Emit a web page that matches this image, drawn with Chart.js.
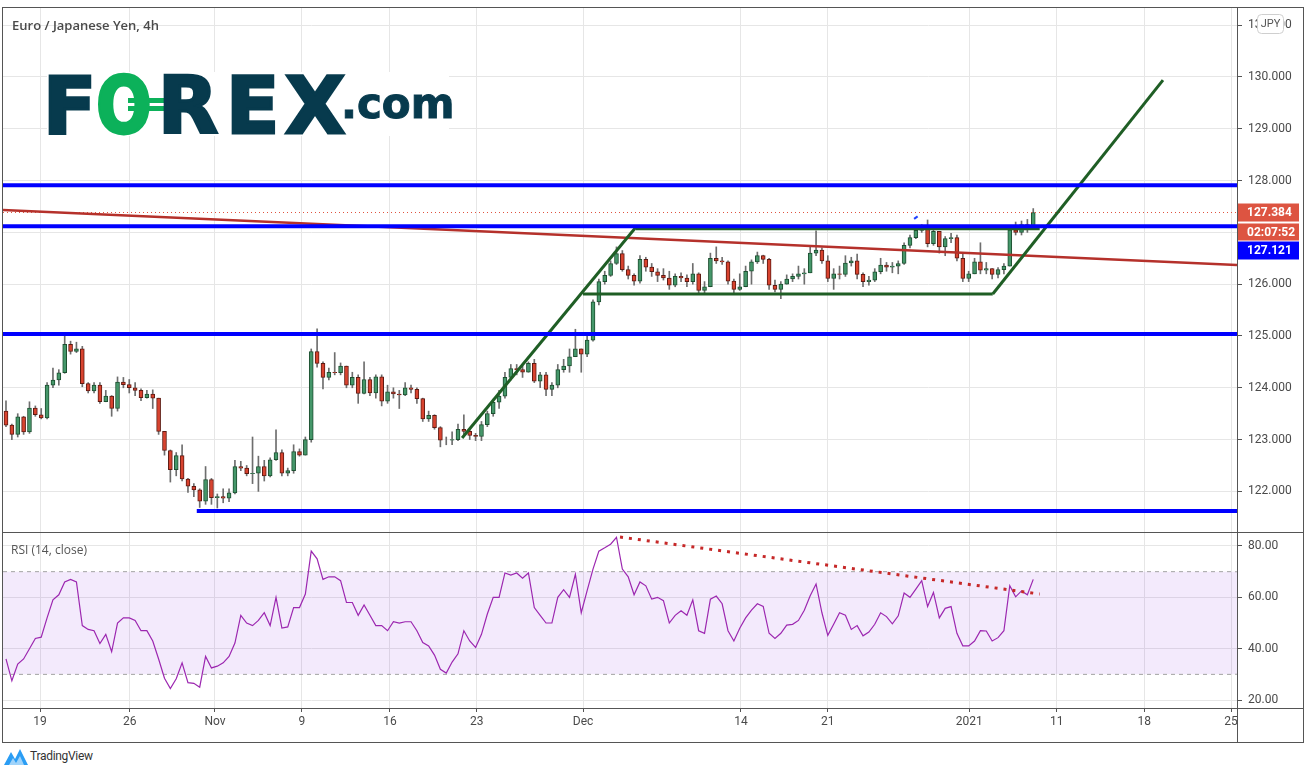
<!DOCTYPE html>
<html>
<head>
<meta charset="utf-8">
<script src="https://cdn.jsdelivr.net/npm/chart.js@4/dist/chart.umd.min.js"></script>
<style>
  html, body { margin: 0; padding: 0; background: #fff; }
  body { width: 1310px; height: 775px; position: relative; overflow: hidden; font-family: Roboto, 'Open Sans', sans-serif; }
  canvas { position: absolute; }
  .ln { position: absolute; background: #555; }
  .logo { position: absolute; font-family: 'DejaVu Sans', sans-serif; font-weight: bold; line-height: 1; white-space: nowrap; }
</style>
</head>
<body>
<canvas id="main" width="1300" height="524" style="left:3px;top:8px"></canvas>
<canvas id="rsi" width="1300" height="209" style="left:3px;top:533px"></canvas>

<div class="ln" style="left:2px;top:7px;width:1302px;height:1px"></div>
<div class="ln" style="left:2px;top:7px;width:1px;height:736px"></div>
<div class="ln" style="left:1303px;top:7px;width:1px;height:736px"></div>
<div class="ln" style="left:1237px;top:7px;width:1px;height:736px"></div>
<div class="ln" style="left:2px;top:532px;width:1302px;height:1px"></div>
<div class="ln" style="left:2px;top:708px;width:1302px;height:1px"></div>
<div class="ln" style="left:2px;top:742px;width:1302px;height:1px"></div>

<div style="position:absolute;left:12px;top:16px;font-size:13px;font-weight:600;color:#4a4a4a;font-family:'Open Sans',sans-serif">Euro / Japanese Yen, 4h</div>
<div style="position:absolute;left:11px;top:541px;font-size:12px;color:#555;font-family:'Open Sans',sans-serif">RSI (14, close)</div>

<!-- FOREX.com logo -->
<div style="position:absolute;left:47px;top:72px;width:402px;height:64px;background:#fff"></div>
<span class="logo" style="left:43px;top:67px;font-size:78px;color:#073a4d;-webkit-text-stroke:3px #073a4d">F</span>
<span class="logo" style="left:96px;top:67px;font-size:78px;color:#0cb15a;-webkit-text-stroke:3px #0cb15a;transform:scaleX(0.84);transform-origin:left top">O</span>
<div style="position:absolute;left:128px;top:98px;width:39px;height:5px;background:#0cb15a"></div>
<div style="position:absolute;left:128px;top:106px;width:39px;height:5px;background:#0cb15a"></div>
<span class="logo" style="left:158px;top:67px;font-size:78px;color:#073a4d;-webkit-text-stroke:3px #073a4d">R</span>
<span class="logo" style="left:226px;top:67px;font-size:78px;color:#073a4d;-webkit-text-stroke:3px #073a4d">E</span>
<span class="logo" style="left:285px;top:67px;font-size:78px;color:#073a4d;-webkit-text-stroke:3px #073a4d">X</span>
<span class="logo" style="left:341px;top:83px;font-size:42px;color:#073a4d;-webkit-text-stroke:1px #073a4d">.com</span>

<!-- TradingView -->
<svg style="position:absolute;left:4px;top:748px" width="24" height="18" viewBox="0 0 24 18">
  <path d="M0 17 L7 4 L11 11 L16 1 L24 17 Z" fill="#2a9df4"/>
  <path d="M5 17 L9 10 L12 15 L16 8 L20 17 Z" fill="#fff" opacity="0.55"/>
</svg>
<div style="position:absolute;left:30px;top:749px;font-size:12px;color:#333;letter-spacing:-0.3px">TradingView</div>

<script>
// EUR/JPY candles (8h buckets)
const firstOpen = 123.55;
const closes = [
  123.28, 123.10, 123.44, 123.15, 123.61, 123.48, 123.42, 124.05, 124.15, 124.29,
  124.84, 124.70, 124.75, 124.08, 123.94, 124.05, 123.73, 123.84, 123.60, 124.11,
  124.06, 124.00, 123.95, 123.81, 123.88, 123.80, 123.16, 122.79, 122.42, 122.69,
  122.24, 122.10, 122.03, 121.81, 122.23, 121.88, 121.90, 121.87, 121.97, 122.48,
  122.45, 122.34, 122.35, 122.48, 122.30, 122.61, 122.75, 122.35, 122.40, 122.77,
  122.70, 123.00, 124.70, 124.47, 124.20, 124.30, 124.29, 124.42, 124.05, 124.20,
  123.89, 124.16, 123.90, 124.21, 123.74, 123.92, 123.88, 123.86, 124.00, 123.97,
  123.79, 123.40, 123.47, 123.23, 122.99, 122.99, 123.00, 123.20, 123.16, 123.08,
  123.06, 123.29, 123.50, 123.72, 123.84, 124.20, 124.37, 124.35, 124.30, 124.47,
  124.13, 124.25, 123.97, 124.05, 124.35, 124.42, 124.60, 124.75, 124.65, 124.92,
  125.66, 126.05, 126.17, 126.40, 126.59, 126.28, 126.17, 126.06, 126.48, 126.33,
  126.24, 126.17, 126.12, 125.98, 126.15, 126.12, 126.05, 126.20, 125.88, 125.95,
  126.50, 126.45, 126.43, 126.06, 125.90, 125.95, 126.25, 126.43, 126.55, 126.48,
  125.98, 125.90, 126.00, 126.10, 126.15, 126.20, 126.22, 126.60, 126.66, 126.45,
  126.11, 126.20, 126.19, 126.41, 126.45, 126.19, 126.05, 126.08, 126.24, 126.37,
  126.33, 126.35, 126.40, 126.75, 126.90, 127.04, 127.08, 126.78, 127.02, 126.72,
  126.88, 126.90, 126.50, 126.11, 126.20, 126.43, 126.27, 126.30, 126.19, 126.28,
  126.35, 127.05, 127.00, 127.15, 127.12, 127.384
];
const highs = [
  123.75, 123.30, 123.50, 123.45, 123.73, 123.65, 123.60, 124.10, 124.38, 124.35,
  125.01, 124.90, 124.88, 124.80, 124.10, 124.10, 124.10, 123.95, 123.85, 124.21,
  124.20, 124.16, 124.10, 123.98, 123.95, 123.96, 123.80, 123.16, 122.80, 122.75,
  122.90, 122.25, 122.15, 122.05, 122.48, 122.25, 121.95, 122.05, 122.05, 122.60,
  122.58, 122.50, 123.05, 122.68, 122.60, 122.65, 123.19, 122.80, 122.45, 122.90,
  122.82, 123.05, 124.75, 125.14, 124.50, 124.38, 124.68, 124.48, 124.40, 124.30,
  124.25, 124.50, 124.20, 124.25, 124.25, 124.05, 124.00, 123.95, 124.10, 124.05,
  124.00, 123.80, 123.55, 123.48, 123.25, 123.05, 123.15, 123.30, 123.48, 123.20,
  123.12, 123.35, 123.55, 123.78, 123.95, 124.30, 124.45, 124.45, 124.42, 124.50,
  124.55, 124.30, 124.30, 124.10, 124.45, 124.55, 124.75, 125.13, 124.75, 125.00,
  125.70, 126.10, 126.25, 126.45, 126.72, 126.65, 126.35, 126.20, 126.55, 126.52,
  126.40, 126.30, 126.30, 126.25, 126.20, 126.22, 126.18, 126.40, 126.22, 126.05,
  126.60, 126.72, 126.52, 126.45, 126.10, 126.20, 126.35, 126.47, 126.62, 126.56,
  126.50, 126.08, 126.05, 126.18, 126.20, 126.35, 126.30, 126.75, 127.03, 126.70,
  126.55, 126.30, 126.35, 126.55, 126.52, 126.58, 126.22, 126.15, 126.30, 126.50,
  126.42, 126.42, 126.45, 126.80, 126.95, 127.08, 127.15, 127.24, 127.08, 127.00,
  126.92, 126.98, 126.95, 126.60, 126.25, 126.50, 126.80, 126.42, 126.30, 126.32,
  126.40, 127.10, 127.20, 127.22, 127.25, 127.46
];
const lows = [
  123.25, 123.00, 123.05, 123.10, 123.12, 123.45, 123.40, 123.40, 124.00, 124.05,
  124.28, 124.65, 124.68, 124.02, 123.90, 123.90, 123.70, 123.80, 123.45, 123.55,
  124.00, 123.90, 123.85, 123.75, 123.80, 123.60, 123.10, 122.70, 122.18, 122.30,
  122.20, 121.98, 121.90, 121.69, 121.75, 121.75, 121.68, 121.78, 121.80, 121.95,
  122.40, 122.30, 122.15, 122.00, 122.20, 122.28, 122.60, 122.30, 122.30, 122.35,
  122.68, 122.88, 122.95, 124.40, 123.98, 124.15, 124.25, 124.25, 124.00, 124.00,
  123.70, 123.88, 123.85, 123.80, 123.65, 123.70, 123.80, 123.60, 123.85, 123.90,
  123.70, 123.35, 123.35, 123.20, 122.86, 122.90, 122.90, 122.98, 123.10, 123.00,
  122.98, 122.98, 123.25, 123.45, 123.60, 123.80, 124.15, 124.25, 124.20, 124.30,
  124.10, 124.00, 123.85, 123.85, 124.00, 124.30, 124.30, 124.60, 124.30, 124.60,
  124.90, 125.60, 126.00, 126.15, 126.38, 126.25, 126.10, 125.98, 126.02, 126.25,
  126.15, 126.05, 126.08, 125.90, 125.95, 126.05, 125.95, 126.00, 125.80, 125.82,
  125.95, 126.40, 126.38, 126.00, 125.80, 125.88, 126.10, 126.00, 126.40, 126.40,
  125.90, 125.85, 125.72, 126.00, 126.05, 126.10, 126.00, 126.30, 126.55, 126.40,
  126.05, 125.90, 126.10, 126.15, 126.35, 126.10, 125.95, 125.98, 126.05, 126.20,
  126.25, 126.22, 126.20, 126.38, 126.70, 126.88, 127.00, 126.72, 126.75, 126.60,
  126.55, 126.80, 126.45, 126.05, 126.05, 126.20, 126.20, 126.20, 126.10, 126.12,
  126.20, 126.35, 126.95, 126.95, 127.00, 127.10
];
const rsiValues = [
  36, 27.5, 34, 36, 40, 44, 44.5, 52, 59, 61,
  66, 67, 66, 49, 47.5, 47, 42, 45.6, 38.8, 50,
  52, 52, 51, 47, 47, 43, 36, 28.5, 24.5, 28.3,
  34.5, 26.8, 26.5, 25, 37, 32.5, 33.2, 34.5, 37, 42.2,
  53, 50, 49, 51, 54, 49, 60, 48, 48.5, 56,
  56, 61.3, 78, 75, 67, 68, 68, 66.5, 58, 58,
  53, 57, 53, 49, 49, 47, 50.5, 50, 50.5, 50.5,
  47, 42.4, 41.1, 37.5, 32, 30.5, 34.8, 38, 47, 43,
  40.5, 45.6, 53.5, 60, 60, 69.5, 68.7, 69.5, 67.5, 69.5,
  56, 53, 50, 50, 60, 63, 60, 69, 54, 62.6,
  71, 78, 79.3, 80.7, 83.4, 71, 68, 61, 66, 64.5,
  59.3, 60, 58.7, 50, 53, 54.8, 53, 59, 47, 46,
  59.3, 60.5, 57.5, 47, 43, 48, 52, 55, 57.5, 56.5,
  46, 44, 46, 49.2, 49.5, 51, 55, 60.6, 65.2, 54,
  45.2, 49.5, 54, 53, 47.5, 49, 45, 46.5, 49.5, 54,
  52.5, 49.7, 52.8, 61.7, 60, 63.2, 66.5, 56.4, 61.9, 52,
  55.7, 56.4, 46, 41.1, 41.1, 43, 47, 46.9, 43, 44.3,
  47, 64.5, 60.2, 62.5, 61, 67
];

const dateLabels = ['19', '26', 'Nov', '9', '16', '23', 'Dec', '14', '21', '2021', '11', '18', '25'];
const dateSlots = [5.8, 21.1, 35.6, 50.4, 65.4, 80.2, 98.3, 125.2, 140.0, 164.1, 179.0, 193.9, 208.7];
const priceTicks = [122, 123, 124, 125, 126, 127, 128, 129, 130, 131];
const rsiTicks = [20, 40, 60, 80];

// drawn levels and trend lines, in (bar slot, price) units
const blueLevels = [127.91, 127.121, 125.04];
const blueSupport = [[32.5, 121.62], [209.71, 121.62]];
const redTrend = [[-0.51, 127.43], [209.71, 126.37]];
const greenChannel = [
  [[77.7, 123.03], [107.3, 127.10]],
  [[107.3, 127.07], [176.1, 127.07]],
  [[98.3, 125.81], [168.1, 125.81]],
  [[168.1, 125.81], [197.1, 129.94]]
];
const blueTick = [[154.7, 127.26], [155.3, 127.31]];
const lastPrice = 127.384;
const levelPrice = 127.121;
const countdown = '02:07:52';
const rsiTrend = [[104.6, 83.5], [176.1, 61.3]];
const rsiBands = [70, 30];

const X_MIN = -0.51, X_MAX = 209.71;

Chart.defaults.font.family = "Roboto, 'Open Sans', sans-serif";
Chart.defaults.font.size = 12;
Chart.defaults.color = '#4a4a4a';

const opens = closes.map((c, i) => i === 0 ? firstOpen : closes[i - 1]);
const up = closes.map((c, i) => c >= opens[i]);
const wickData = closes.map((c, i) => ({x: i, y: [Math.min(lows[i], opens[i], c), Math.max(highs[i], opens[i], c)]}));
const bodyData = closes.map((c, i) => ({x: i, y: [opens[i], c]}));

function seg(points, color, width, order, dash) {
  return {
    type: 'line',
    data: points.map(p => ({x: p[0], y: p[1]})),
    borderColor: color,
    borderWidth: width,
    borderDash: dash || [],
    borderCapStyle: 'butt',
    pointRadius: 0,
    tension: 0,
    fill: false,
    order: order
  };
}

const lineSets = [];
greenChannel.forEach(s => lineSets.push(seg(s, '#1f5e25', 3, 2)));
lineSets.push(seg(redTrend, '#b5312b', 2.5, 2));
lineSets.push(seg([[X_MIN, lastPrice], [X_MAX, lastPrice]], '#e0533e', 1, 3, [1, 3]));
blueLevels.forEach(v => lineSets.push(seg([[X_MIN, v], [X_MAX, v]], '#0000ff', 4, 1)));
lineSets.push(seg(blueSupport, '#0000ff', 4, 1));
lineSets.push(seg(blueTick, '#2040ff', 2, 1));

const tagPlugin = {
  id: 'tags',
  afterDraw(chart) {
    const ctx = chart.ctx;
    const ys = chart.scales.y;
    const left = chart.chartArea.right;
    const w = 62;
    const p = ys.getPixelForValue(lastPrice);
    const boxes = [
      {top: p - 9, h: 18, color: '#dd5441', text: lastPrice.toFixed(3)},
      {top: p + 11, h: 17, color: '#dd5441', text: countdown},
      {top: p + 29, h: 18, color: '#0000ff', text: levelPrice.toFixed(3)}
    ];
    ctx.save();
    ctx.font = "bold 12px Roboto, 'Open Sans', sans-serif";
    ctx.textBaseline = 'middle';
    boxes.forEach(b => {
      ctx.fillStyle = b.color;
      ctx.fillRect(left, b.top, w, b.h);
      ctx.fillStyle = '#fff';
      ctx.fillText(b.text, left + 10, b.top + b.h / 2 + 0.5);
    });
    // currency badge
    const bx = left + 20, by = 6, bw = 26, bh = 19;
    ctx.beginPath();
    ctx.roundRect(bx + 0.5, by + 0.5, bw, bh, 4);
    ctx.fillStyle = '#fff';
    ctx.fill();
    ctx.strokeStyle = '#cfcfcf';
    ctx.lineWidth = 1;
    ctx.stroke();
    ctx.fillStyle = '#555';
    ctx.font = "11px Roboto, 'Open Sans', sans-serif";
    ctx.textAlign = 'center';
    ctx.fillText('JPY', bx + bw / 2 + 0.5, by + bh / 2 + 1);
    ctx.restore();
  }
};

function xScale(showLabels) {
  return {
    type: 'linear',
    min: X_MIN,
    max: X_MAX,
    offset: false,
    grid: {color: '#e6e6e6', offset: false, drawTicks: showLabels, tickLength: 4, tickColor: '#555'},
    border: {display: false},
    ticks: {display: showLabels, autoSkip: false, maxRotation: 0, padding: 3, color: '#4a4a4a',
      callback: (v, i) => dateLabels[i]},
    afterBuildTicks: s => { s.ticks = dateSlots.map(v => ({value: v})); },
    afterFit: s => { s.height = showLabels ? 34 : 0; s.paddingLeft = 0; s.paddingRight = 0; }
  };
}

function yScale(min, max, ticks, digits) {
  return {
    position: 'right',
    min: min,
    max: max,
    beginAtZero: false,
    grid: {color: '#e6e6e6', tickLength: 5, tickColor: '#555'},
    border: {display: false},
    ticks: {padding: 6, color: '#4a4a4a', autoSkip: false, callback: v => Number(v).toFixed(digits)},
    afterBuildTicks: s => { s.ticks = ticks.map(v => ({value: v})); },
    afterFit: s => { s.width = 66; s.paddingTop = 0; s.paddingBottom = 0; }
  };
}

new Chart(document.getElementById('main'), {
  type: 'bar',
  data: {
    datasets: [
      {type: 'bar', data: wickData, backgroundColor: '#6e6e6e', barThickness: 1, grouped: false, order: 6},
      {type: 'bar', data: bodyData, grouped: false, order: 5, barThickness: 4, borderWidth: 1, borderSkipped: false,
        backgroundColor: up.map(u => u ? '#45976a' : '#d8432f'),
        borderColor: up.map(u => u ? '#1d4f30' : '#5e1a12')},
      ...lineSets
    ]
  },
  options: {
    responsive: false,
    animation: false,
    events: [],
    layout: {padding: 0},
    plugins: {legend: {display: false}, tooltip: {enabled: false}},
    scales: {
      x: xScale(false),
      y: yScale(121.216, 131.332, priceTicks, 3)
    }
  },
  plugins: [tagPlugin]
});

new Chart(document.getElementById('rsi'), {
  type: 'line',
  data: {
    datasets: [
      {data: rsiValues.map((v, i) => ({x: i, y: v})), borderColor: '#9c27b0', borderWidth: 1.2, pointRadius: 0, tension: 0, fill: false, order: 1},
      {data: [{x: X_MIN, y: rsiBands[0]}, {x: X_MAX, y: rsiBands[0]}], borderColor: '#a3a3a3', borderWidth: 1, borderDash: [4, 4], pointRadius: 0, fill: false, order: 3},
      {data: [{x: X_MIN, y: rsiBands[1]}, {x: X_MAX, y: rsiBands[1]}], borderColor: '#a3a3a3', borderWidth: 1, borderDash: [4, 4], pointRadius: 0, fill: '-1', backgroundColor: 'rgba(150, 60, 230, 0.11)', order: 3},
      {data: rsiTrend.map(p => ({x: p[0], y: p[1]})), borderColor: '#c62828', borderWidth: 3, borderDash: [3, 6], borderCapStyle: 'butt', pointRadius: 0, fill: false, order: 0}
    ]
  },
  options: {
    responsive: false,
    animation: false,
    events: [],
    layout: {padding: 0},
    plugins: {legend: {display: false}, tooltip: {enabled: false}},
    scales: {
      x: xScale(true),
      y: yScale(16.9, 85.06, rsiTicks, 2)
    }
  }
});
</script>
</body>
</html>
